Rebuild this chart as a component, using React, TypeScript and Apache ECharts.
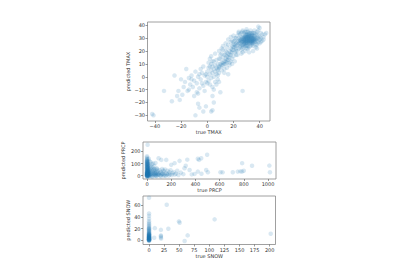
import React, { useEffect, useRef } from "react";
import * as echarts from "echarts";

// true vs predicted TMAX
const tmaxPoints: number[][] = [
  [22,24],[23,27],[24,22],[24,30],[25,26],[25,33],[26,28],[26,21],[27,31],[27,25],[28,29],[28,34],[28,23],[29,27],[29,32],[30,30],[30,25],[30,35],[31,28],[31,33],[31,22],[32,30],[32,26],[32,34],[33,29],[33,31],[33,24],[34,27],[34,32],[35,30],[35,26],[35,34],[36,29],[36,31],[37,27],[37,33],[38,30],[38,25],[39,32],[40,29],
  [22,30],[23,20],[24,26],[25,29],[26,34],[26,25],[27,28],[27,22],[28,31],[28,26],[29,29],[29,24],[29,35],[30,27],[30,32],[31,30],[31,26],[32,28],[32,32],[33,27],[33,34],[34,30],[34,25],[35,28],[35,32],[36,27],[36,34],[37,30],[37,25],[38,28],[38,33],[39,27],[40,31],[41,30],[42,33],
  [20,25],[21,28],[22,20],[23,32],[24,34],[25,23],[26,31],[27,35],[27,19],[28,28],[29,30],[30,28],[30,22],[31,35],[31,31],[32,23],[33,30],[34,34],[34,28],[35,24],[36,32],[37,29],[38,35],[39,30],[40,26],[41,34],[42,28],[43,31],[36,36],[33,36],[30,37],[27,36],[24,35],[40,38],[44,33],[35,20],[38,22],[32,19],[29,20],[26,18],[23,17],[39,36],[41,27],[43,29],[37,23],
  [26,27],[27,30],[28,27],[29,31],[29,26],[30,29],[30,31],[31,27],[31,29],[32,29],[32,31],[33,28],[33,32],[34,29],[34,31],[35,29],[36,30],[28,30],[27,27],[26,29],[25,28],[30,33],[32,33],[34,33],[29,33],[31,32],[33,26],[35,27],[28,25],[30,26],[32,27],[36,28],[25,24],[27,24],[24,28],[23,25],[31,24],[29,28],[30,24],[34,26],
  [10,8],[10,14],[11,11],[11,18],[12,9],[12,15],[12,21],[13,12],[13,17],[14,10],[14,20],[14,14],[15,16],[15,23],[15,11],[16,18],[16,13],[16,25],[17,20],[17,15],[18,22],[18,17],[18,27],[19,19],[19,24],[19,14],[20,21],[20,27],[20,16],[21,23],[21,19],[22,26],[22,17],[11,5],[13,6],[15,7],[17,9],[19,10],[21,12],[12,24],[14,26],[16,29],[18,31],[20,32],[13,3],[16,2],[9,20],[11,22],[17,11],[15,19],[19,28],[21,30],[22,22],[10,17],[14,17],[18,12],
  [12,11],[13,10],[14,12],[15,13],[16,15],[17,17],[18,19],[19,21],[20,23],[21,25],[11,9],[10,10],[9,7],[8,6],
  [0,0],[0,4],[1,-3],[1,7],[2,2],[2,-6],[3,5],[3,10],[3,-1],[4,3],[4,8],[5,0],[5,12],[5,6],[6,4],[6,-4],[6,9],[7,2],[7,13],[7,7],[8,5],[8,10],[8,-2],[9,8],[9,3],[9,14],[1,11],[2,14],[4,-8],[5,-10],[7,-6],[0,-5],[-1,2],[3,16],[6,18],[8,1],[9,-4],[2,8],[4,12],
  [-1,-4],[-2,1],[-3,-7],[-4,3],[-5,-2],[-6,-9],[-7,0],[-8,-5],[-9,4],[-10,-3],[-11,-8],[-12,1],[-13,-6],[-14,-1],[-15,-11],[-16,6],[-17,-4],[-5,6],[-3,8],[-8,-12],[-10,-15],[-2,-11],[-7,-13],[-12,-2],[-4,-5],[-6,2],
  [-42,-29],[-41,-30],[-33,-11],[-27,-19],[-25,1],[-23,-15],[-22,-11],[-21,-18],[-19,-14],[-20,-2],[-18,-8],[-9,-30],[-7,-21],[-6,-24],[-3,-27],[-1,-23],[3,-27],[4,-26],[4,-15],[27,-11],[39,39],[45,34],[-14,-10],[5,-20],[10,-12],
];

// true vs predicted PRCP
const prcpPoints: number[][] = [
  [0,-8],[0,-3],[0,2],[0,6],[0,10],[0,15],[0,20],[0,25],[0,30],[0,35],[0,40],[0,45],[0,50],[0,55],[0,60],[0,65],[0,70],[0,75],[0,80],[0,85],[0,90],[0,95],[0,100],[0,105],[0,110],[0,115],[0,120],[0,125],[0,130],[0,140],[0,150],[0,160],
  [3,0],[3,12],[3,28],[3,44],[3,62],[3,78],[3,96],[3,112],[3,135],[5,5],[5,20],[5,38],[5,52],[5,70],[5,88],[5,102],[5,118],[5,255],[8,-5],[8,15],[8,33],[8,48],[8,66],[8,82],[8,98],[10,3],[10,24],[10,42],[10,58],[10,74],[13,8],[13,30],[13,50],[13,90],[15,-2],[15,18],[15,36],
  [0,-5],[0,0],[0,4],[0,8],[0,12],[0,18],[0,22],[0,28],[3,5],[3,20],[5,10],[5,30],[8,2],[8,22],[10,12],[12,0],[2,-2],[6,-6],[4,15],[7,40],
  [18,5],[20,25],[22,45],[25,10],[28,60],[30,0],[32,32],[35,18],[38,50],[40,-5],[42,8],[45,28],[48,65],[50,15],[52,40],[55,3],[58,22],[60,55],[62,10],[65,35],[68,0],[70,18],[72,48],[75,8],[78,28],[80,-3],[82,60],[85,15],[88,38],[90,5],[95,22],[96,144],[100,10],[105,45],[110,0],[115,28],[118,130],[120,8],[125,55],[130,18],[135,2],[140,35],[145,12],[150,50],[155,-2],[159,130],[160,20],[165,8],[170,40],[175,15],[180,0],[185,28],[190,10],[195,45],[200,89],[205,5],[210,20],[220,30],[228,103],[230,8],[240,15],[250,40],[269,122],[260,5],[280,25],[300,12],[310,61],[320,81],[333,132],[352,47],[370,10],[393,14],[420,33],[420,139],[430,130],[448,144],[489,47],[497,172],[503,28],[450,15],[607,28],[625,27],[709,28],[750,33],[772,35],[786,103],[786,33],[800,40],[868,81],[1011,83],[1016,28],
  [20,-5],[25,38],[30,15],[35,70],[45,-8],[55,48],[65,20],[75,-2],[85,52],[95,8],[105,25],[115,-5],[125,15],[135,42],[145,0],[60,80],[40,95],[30,110],[20,120],[50,100],[70,105],[15,140],[25,80],
];

// true vs predicted SNOW
const snowPoints: number[][] = [
  [0,0],[0,0],[0,1],[0,1],[0,2],[0,2],[0,3],[0,3],[0,4],[0,4],[0,5],[0,5],[0,6],[0,6],[0,7],[0,8],[0,8],[0,9],[0,10],[0,10],[0,11],[0,12],[0,13],[0,14],[0,15],[0,16],[0,17],[0,18],[0,19],[0,20],[0,21],[0,22],[0,24],[0,26],[0,28],[0,30],[0,33],[0,37],[0,42],[0,46],[0,73],[0,-1],[0,0.5],[0,1.5],[0,2.5],[0,3.5],[0,4.5],[0,6.5],[0,7.5],[0,9.5],
  [0,0],[0,1],[0,2],[0,3],[0,4],[0,5],[0,6],[0,8],[0,10],[0,12],
  [9.6,21],[8.5,4.6],[19.7,18],[19.7,8.6],[19.7,7],[19.7,5],[29.3,61],[32,20],[49.6,32.6],[50.7,30.3],[59,-1],[64,8.6],[108.7,36],[201.7,11.4],[20,3],
];

const tmaxXTicks = [-40, -20, 0, 20, 40];
const tmaxYTicks = [-30, -20, -10, 0, 10, 20, 30, 40];
const prcpXTicks = [0, 200, 400, 600, 800, 1000];
const prcpYTicks = [0, 100, 200];
const snowXTicks = [0, 25, 50, 75, 100, 125, 150, 175, 200];
const snowYTicks = [0, 20, 40, 60];

const FONT = "DejaVu Sans";
const FS = 5;
const TXT = "#333";
const FRAME = "#888";
const DOT = "#1f77b4";

function axisCommon(idx: number, name: string, min: number, max: number, ticks: number[], gap: number) {
  return {
    type: "value" as const,
    gridIndex: idx,
    min,
    max,
    name,
    nameLocation: "middle" as const,
    nameGap: gap,
    nameTextStyle: { fontFamily: FONT, fontSize: FS, color: TXT },
    splitLine: { show: false },
    axisLine: { show: false, onZero: false },
    axisTick: { show: true, inside: false, length: 2, lineStyle: { color: "#555", width: 0.6 }, customValues: ticks },
    axisLabel: { fontFamily: FONT, fontSize: FS, color: TXT, margin: 2.5, customValues: ticks, formatter: (v: number) => String(v).replace("-", "\u2212") },
  };
}

function scatter(idx: number, data: number[][]) {
  return {
    type: "scatter" as const,
    xAxisIndex: idx,
    yAxisIndex: idx,
    data,
    symbolSize: 4.5,
    itemStyle: { color: DOT, opacity: 0.17 },
    silent: true,
  };
}

export default function App() {
  const ref = useRef<HTMLDivElement>(null);
  useEffect(() => {
    if (!ref.current) return;
    const chart = echarts.init(ref.current, undefined, { renderer: "svg" });
    const gridBase = { show: true, borderColor: FRAME, borderWidth: 0.8, backgroundColor: "transparent" };
    chart.setOption({
      animation: false,
      backgroundColor: "#fff",
      grid: [
        { ...gridBase, left: 147.5, top: 22, width: 122.5, height: 99 },
        { ...gridBase, left: 143, top: 142, width: 133, height: 37 },
        { ...gridBase, left: 143, top: 196, width: 132.5, height: 48.5 },
      ],
      xAxis: [
        axisCommon(0, "true TMAX", -45.6, 47.9, tmaxXTicks, 8),
        axisCommon(1, "true PRCP", -33, 1066, prcpXTicks, 6.5),
        axisCommon(2, "true SNOW", -10, 209.6, snowXTicks, 9),
      ],
      yAxis: [
        { ...axisCommon(0, "predicted TMAX", -34.4, 42.6, tmaxYTicks, 13), nameRotate: 90 },
        { ...axisCommon(1, "predicted PRCP", -28, 278, prcpYTicks, 18), nameRotate: 90 },
        { ...axisCommon(2, "predicted SNOW", -7, 76, snowYTicks, 11.5), nameRotate: 90 },
      ],
      series: [scatter(0, tmaxPoints), scatter(1, prcpPoints), scatter(2, snowPoints)],
    });
    return () => chart.dispose();
  }, []);
  return (
    <div
      ref={ref}
      style={{ position: "fixed", left: 0, top: 0, width: 400, height: 280 }}
    />
  );
}
